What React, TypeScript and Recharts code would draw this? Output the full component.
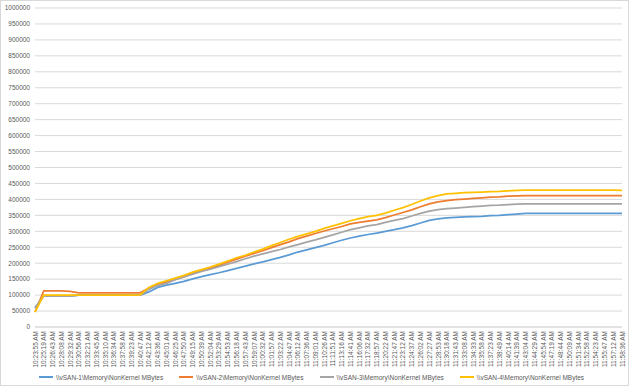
import { LineChart, Line, XAxis, YAxis, CartesianGrid, Legend } from 'recharts';

const timeLabels = [
  '10:23:55 AM', '10:25:19 AM', '10:26:43 AM', '10:28:08 AM', '10:29:32 AM', '10:30:56 AM',
  '10:32:21 AM', '10:33:45 AM', '10:35:10 AM', '10:36:34 AM', '10:37:58 AM', '10:39:23 AM',
  '10:40:47 AM', '10:42:12 AM', '10:43:36 AM', '10:45:01 AM', '10:46:25 AM', '10:47:50 AM',
  '10:49:15 AM', '10:50:39 AM', '10:52:04 AM', '10:53:29 AM', '10:54:53 AM', '10:56:18 AM',
  '10:57:43 AM', '10:59:07 AM', '11:00:32 AM', '11:01:57 AM', '11:03:22 AM', '11:04:47 AM',
  '11:06:12 AM', '11:07:36 AM', '11:09:01 AM', '11:10:26 AM', '11:11:51 AM', '11:13:16 AM',
  '11:14:41 AM', '11:16:06 AM', '11:17:32 AM', '11:18:57 AM', '11:20:22 AM', '11:21:47 AM',
  '11:23:12 AM', '11:24:37 AM', '11:26:02 AM', '11:27:27 AM', '11:28:53 AM', '11:30:18 AM',
  '11:31:43 AM', '11:33:08 AM', '11:34:33 AM', '11:35:58 AM', '11:37:23 AM', '11:38:49 AM',
  '11:40:14 AM', '11:41:39 AM', '11:43:04 AM', '11:44:29 AM', '11:45:54 AM', '11:47:19 AM',
  '11:48:44 AM', '11:50:09 AM', '11:51:34 AM', '11:52:58 AM', '11:54:23 AM', '11:55:47 AM',
  '11:57:12 AM', '11:58:36 AM',
];

const vsan1 = [
  60000, 97000, 97000, 97000, 97000, 100000, 100000, 100000, 100000, 100000, 100000, 100000,
  100000, 110000, 124000, 131000, 137000, 143000, 151000, 158000, 164000, 170000, 177000, 184000,
  191000, 198000, 204000, 211000, 218000, 226000, 235000, 242000, 249000, 256000, 264000, 272000,
  279000, 285000, 290000, 294000, 300000, 305000, 311000, 318000, 326000, 334000, 339000, 342000,
  344000, 345000, 346000, 347000, 349000, 350000, 352000, 354000, 356000, 356000, 356000, 356000,
  356000, 356000, 356000, 356000, 356000, 356000, 356000, 356000,
];

const vsan2 = [
  47000, 113000, 113000, 113000, 112000, 107000, 107000, 107000, 107000, 107000, 107000, 107000,
  107000, 122000, 134000, 141000, 149000, 158000, 168000, 176000, 184000, 193000, 203000, 213000,
  222000, 231000, 239000, 249000, 258000, 267000, 277000, 285000, 293000, 301000, 308000, 315000,
  323000, 328000, 332000, 336000, 343000, 351000, 359000, 367000, 377000, 386000, 392000, 396000,
  399000, 401000, 403000, 405000, 407000, 408000, 410000, 411000, 412000, 412000, 412000, 412000,
  412000, 412000, 412000, 412000, 412000, 412000, 412000, 412000,
];

const vsan3 = [
  60000, 97000, 97000, 97000, 97000, 100000, 100000, 100000, 100000, 100000, 100000, 100000,
  100000, 118000, 130000, 137000, 148000, 157000, 166000, 174000, 181000, 189000, 197000, 205000,
  214000, 222000, 229000, 236000, 243000, 251000, 258000, 266000, 273000, 281000, 289000, 297000,
  305000, 311000, 317000, 321000, 328000, 334000, 340000, 348000, 356000, 363000, 368000, 371000,
  373000, 375000, 377000, 379000, 381000, 382000, 384000, 385000, 386000, 386000, 386000, 386000,
  386000, 386000, 386000, 386000, 386000, 386000, 386000, 386000,
];

const vsan4 = [
  47000, 100000, 100000, 100000, 100000, 100000, 100000, 100000, 100000, 100000, 100000, 100000,
  101000, 124000, 137000, 145000, 153000, 162000, 172000, 180000, 188000, 197000, 207000, 217000,
  225000, 235000, 244000, 255000, 265000, 275000, 284000, 292000, 300000, 309000, 317000, 325000,
  333000, 340000, 346000, 350000, 357000, 366000, 374000, 384000, 395000, 405000, 412000, 417000,
  419000, 421000, 422000, 423000, 424000, 425000, 427000, 428000, 429000, 429000, 429000, 429000,
  429000, 429000, 429000, 429000, 429000, 429000, 429000, 428000,
];

const yTicks = [
  0, 50000, 100000, 150000, 200000, 250000, 300000, 350000, 400000, 450000, 500000,
  550000, 600000, 650000, 700000, 750000, 800000, 850000, 900000, 950000, 1000000,
];

const seriesNames = [
  '\\\\vSAN-1\\Memory\\NonKernel MBytes',
  '\\\\vSAN-2\\Memory\\NonKernel MBytes',
  '\\\\vSAN-3\\Memory\\NonKernel MBytes',
  '\\\\vSAN-4\\Memory\\NonKernel MBytes',
];
const seriesColors = ['#5B9BD5', '#ED7D31', '#A5A5A5', '#FFC000'];

const data = timeLabels.map((time, i) => ({
  time,
  s1: vsan1[i],
  s2: vsan2[i],
  s3: vsan3[i],
  s4: vsan4[i],
}));

const FONT = '"Liberation Sans", Arial, sans-serif';
const TEXT = '#595959';

function TimeTick({ x, y, payload }: any) {
  return (
    <text
      x={x}
      y={y}
      transform={`rotate(-90 ${x} ${y})`}
      textAnchor="end"
      dominantBaseline="central"
      fontSize={6.5}
      fontFamily={FONT}
      fill={TEXT}
    >
      {payload.value}
    </text>
  );
}

function LegendRow({ payload }: any) {
  return (
    <div
      style={{
        display: 'flex',
        justifyContent: 'center',
        alignItems: 'center',
        gap: 16,
        height: 16,
        fontFamily: FONT,
        fontSize: 6.5,
        color: TEXT,
        whiteSpace: 'nowrap',
      }}
    >
      {(payload || []).map((p: any) => (
        <div key={p.value} style={{ display: 'flex', alignItems: 'center' }}>
          <span style={{ width: 14, height: 2, background: p.color, marginRight: 3 }} />
          <span>{p.value}</span>
        </div>
      ))}
    </div>
  );
}

export default function App() {
  return (
    <div
      style={{
        position: 'absolute',
        left: 0,
        top: 0,
        width: 627,
        height: 384,
        border: '1px solid #D9D9D9',
        background: '#fff',
      }}
    >
      <LineChart width={627} height={384} data={data} margin={{ top: 7, right: 6, left: 0, bottom: 0 }}>
        <CartesianGrid vertical={false} stroke="#D9D9D9" strokeWidth={1} />
        <XAxis
          dataKey="time"
          interval={0}
          height={42}
          tick={<TimeTick />}
          tickLine={false}
          tickSize={2}
          tickMargin={2}
          axisLine={{ stroke: '#D9D9D9' }}
        />
        <YAxis
          domain={[0, 1000000]}
          ticks={yTicks}
          width={34}
          tickLine={false}
          axisLine={false}
          tickSize={0}
          tickMargin={5}
          tick={{ fontSize: 6.5, fill: TEXT, fontFamily: FONT }}
          interval={0}
        />
        <Legend verticalAlign="bottom" height={16} content={<LegendRow />} />
        {['s1', 's2', 's3', 's4'].map((key, i) => (
          <Line
            key={key}
            type="linear"
            dataKey={key}
            name={seriesNames[i]}
            stroke={seriesColors[i]}
            strokeWidth={1.75}
            dot={false}
            isAnimationActive={false}
          />
        ))}
      </LineChart>
    </div>
  );
}
